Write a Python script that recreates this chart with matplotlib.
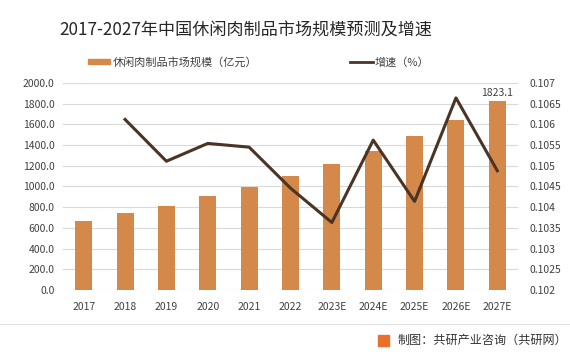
import matplotlib
matplotlib.use("Agg")
import matplotlib.pyplot as plt
from matplotlib.patches import Rectangle
from matplotlib.lines import Line2D

plt.rcParams['font.family'] = ['Noto Sans CJK SC', 'DejaVu Sans']

years = ['2017', '2018', '2019', '2020', '2021', '2022',
         '2023E', '2024E', '2025E', '2026E', '2027E']
market_size = [667, 740, 814, 904, 997, 1099, 1215, 1343, 1487, 1644, 1823.1]
growth_years = years[1:]
growth = [0.10612, 0.10511, 0.10554, 0.10545, 0.10446, 0.10363,
          0.10562, 0.10414, 0.10664, 0.10488]
left_ticks = [0, 200, 400, 600, 800, 1000, 1200, 1400, 1600, 1800, 2000]
right_ticks = [0.102, 0.1025, 0.103, 0.1035, 0.104, 0.1045,
               0.105, 0.1055, 0.106, 0.1065, 0.107]

bar_color = '#D4894A'
line_color = '#4A3426'
text_color = '#404040'

fig = plt.figure(figsize=(5.7, 3.56), dpi=100)
ax = fig.add_axes([0.1105, 0.1854, 0.7983, 0.5815])
x = list(range(len(years)))
ax.bar(x, market_size, width=0.41, color=bar_color, zorder=2)
ax.set_xlim(-0.5, len(years) - 0.5)
ax.set_ylim(0, 2000)
ax.set_yticks(left_ticks)
ax.set_yticklabels([f'{v:.1f}' for v in left_ticks])
ax.set_xticks(x)
ax.set_xticklabels(years)
ax.grid(axis='y', color='#D9D9D9', linewidth=0.8, zorder=0)
ax.tick_params(length=0, labelsize=7.5, colors=text_color, pad=6)
ax.tick_params(axis='x', pad=9)
for s in ax.spines.values():
    s.set_visible(False)
ax.text(x[-1], market_size[-1] + 35, f'{market_size[-1]:.1f}', ha='center',
        va='bottom', fontsize=7.5, color=text_color)

ax2 = ax.twinx()
ax2.plot([years.index(y) for y in growth_years], growth, color=line_color,
         linewidth=2.2, zorder=3)
ax2.set_ylim(0.102, 0.107)
ax2.set_yticks(right_ticks)
ax2.set_yticklabels([f'{v:g}' for v in right_ticks])
ax2.tick_params(length=0, labelsize=7.5, colors=text_color, pad=8)
for s in ax2.spines.values():
    s.set_visible(False)

fig.text(246 / 570, 1 - 31 / 356, '2017-2027年中国休闲肉制品市场规模预测及增速',
         ha='center', va='center', fontsize=12.3, color='#262626')

# legend
fig.patches.append(Rectangle((88 / 570, 1 - 64 / 356), 22 / 570, 5 / 356,
                             transform=fig.transFigure, color=bar_color))
fig.text(113 / 570, 1 - 62 / 356, '休闲肉制品市场规模（亿元）', va='center',
         fontsize=8, color=text_color)
fig.lines.append(Line2D([350 / 570, 373 / 570], [1 - 62 / 356, 1 - 62 / 356],
                        transform=fig.transFigure, color=line_color, linewidth=2))
fig.text(375 / 570, 1 - 62 / 356, '增速（%）', va='center', fontsize=8,
         color=text_color)

# footer
fig.lines.append(Line2D([0, 1], [1 - 324 / 356, 1 - 324 / 356],
                        transform=fig.transFigure, color='#E0E0E0', linewidth=0.8))
fig.patches.append(Rectangle((378 / 570, 1 - 346 / 356), 11 / 570, 11 / 356,
                             transform=fig.transFigure, color='#E8702A'))
fig.text(398 / 570, 1 - 340 / 356, '制图：共研产业咨询（共研网）', va='center',
         fontsize=8.7, color='#333333')

fig.savefig('out.png', dpi=100)
